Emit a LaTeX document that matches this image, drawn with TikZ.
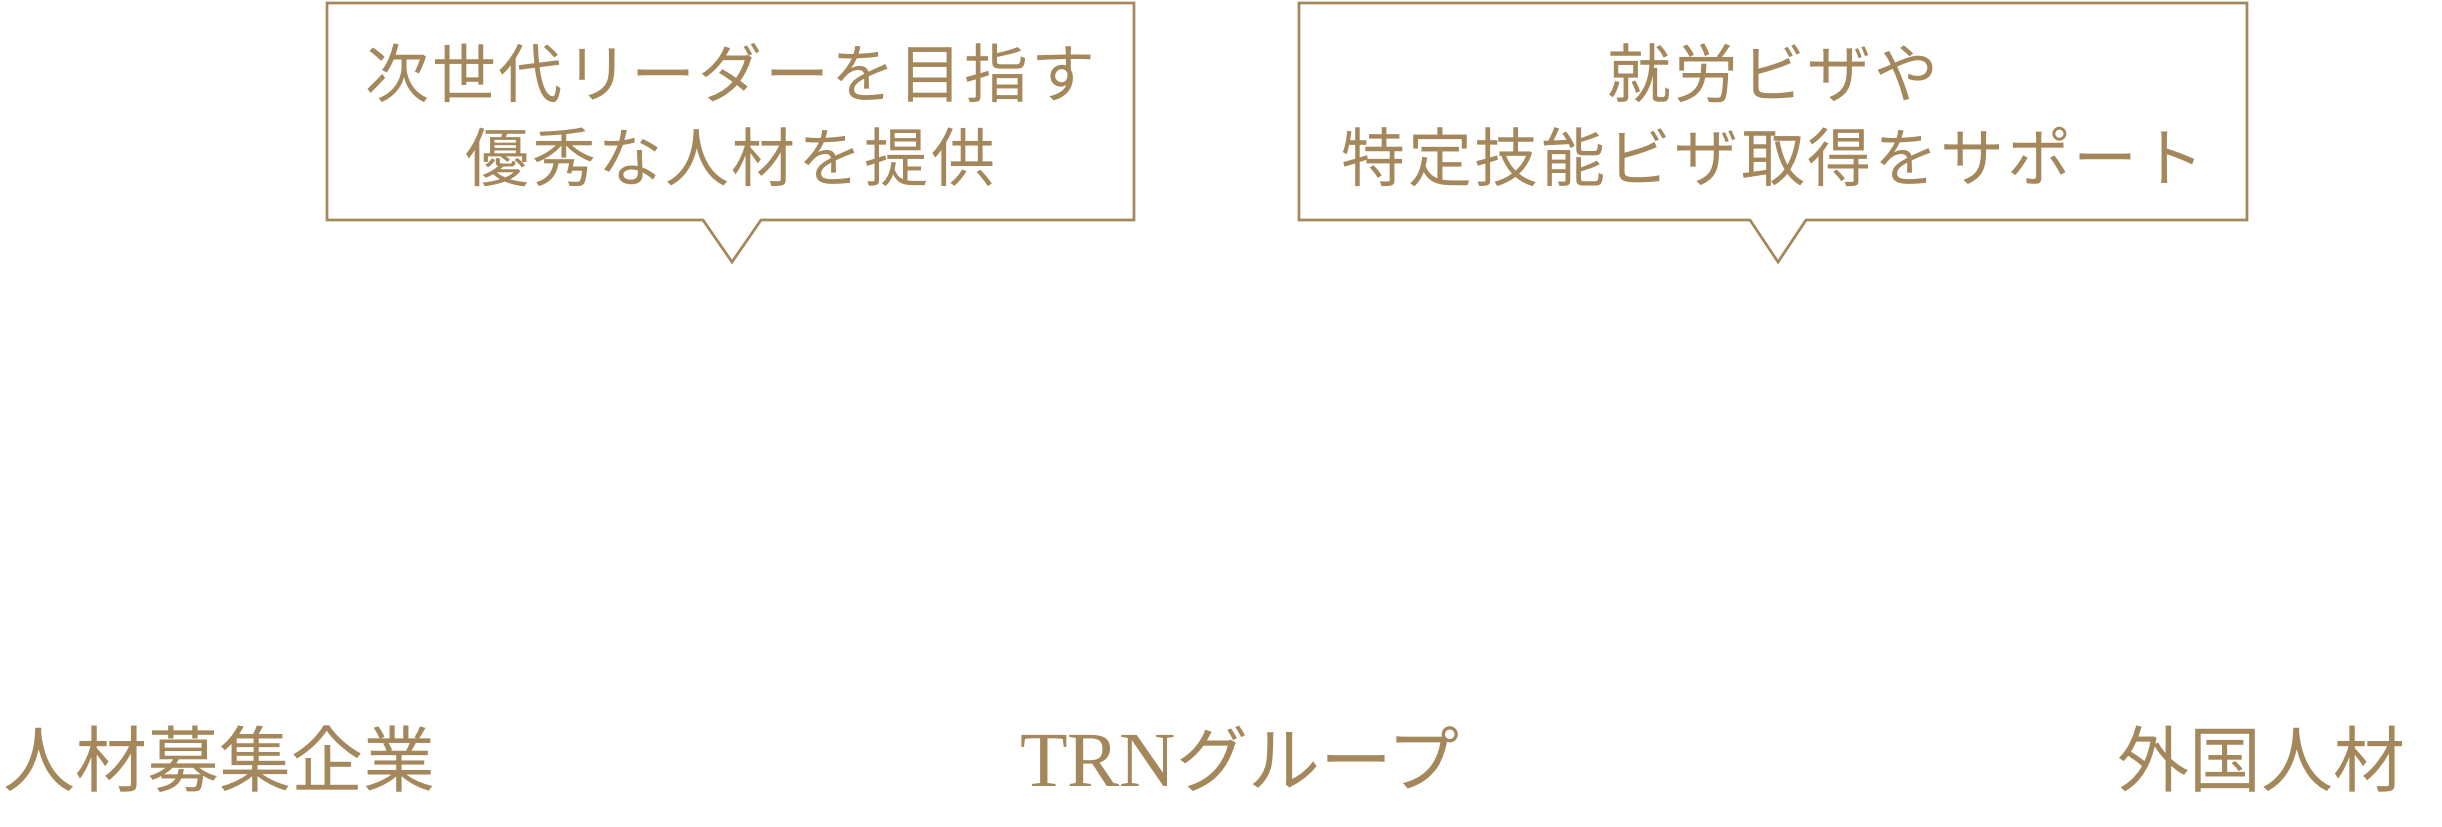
\documentclass[tikz,border=0pt]{standalone}
\usepackage{fontspec}
\newfontfamily\jpbox[LetterSpace=4]{Noto Sans CJK JP}
\newfontfamily\jplab{Noto Sans CJK JP}
\newfontfamily\latinserif{Liberation Serif}
\definecolor{gold}{RGB}{164,135,90}
\begin{document}
\begin{tikzpicture}[x=1pt,y=-1pt,
  boxarea/.style={draw=none,inner sep=0pt,outer sep=0pt},
  outline/.style={draw=gold,line width=2.6pt,line join=miter,fill=white},
  bubbletext/.style={text=gold,align=center,inner sep=0pt,font=\jpbox\fontsize{64}{84}\selectfont},
  partylabel/.style={text=gold,inner sep=0pt,anchor=base,font=\jplab\fontsize{72}{80}\selectfont}]
\useasboundingbox (0,0) rectangle (2442,827);
% callout 1
\node[boxarea,minimum width=807pt,minimum height=217pt] (b1) at (730.5,111.5) {};
\coordinate (t1l) at (703,220);
\coordinate (t1) at (732,262);
\coordinate (t1r) at (761,220);
\draw[outline] (b1.north west) -- (b1.north east) -- (b1.south east) -- (t1r) -- (t1) -- (t1l) -- (b1.south west) -- cycle;
\node[bubbletext] (q1) at ([yshift=-4pt]b1.center) {次世代リーダーを目指す\\優秀な人材を提供};
% callout 2
\node[boxarea,minimum width=948pt,minimum height=217pt] (b2) at (1773,111.5) {};
\coordinate (t2l) at (1750,220);
\coordinate (t2) at (1778,262);
\coordinate (t2r) at (1806,220);
\draw[outline] (b2.north west) -- (b2.north east) -- (b2.south east) -- (t2r) -- (t2) -- (t2l) -- (b2.south west) -- cycle;
\node[bubbletext] (q2) at ([yshift=-4pt]b2.center) {就労ビザや\\特定技能ビザ取得をサポート};
% bottom labels
\node[partylabel] (company) at (220,786) {人材募集企業};
\node[partylabel] (trn) at (1240,786) {{\latinserif\fontsize{78}{80}\selectfont TRN}グループ};
\node[partylabel] (foreign) at (2261,786) {外国人材};
\end{tikzpicture}
\end{document}
